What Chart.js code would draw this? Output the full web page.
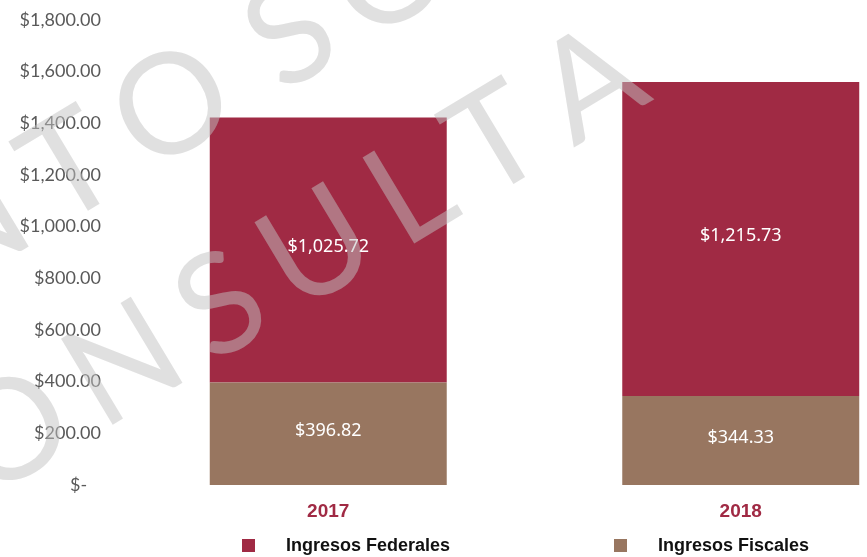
<!DOCTYPE html>
<html>
<head>
<meta charset="utf-8">
<script src="https://cdn.jsdelivr.net/npm/chart.js@4.4.1/dist/chart.umd.min.js"></script>
<style>
  html, body { margin: 0; padding: 0; background: #fff; overflow: hidden; }
  #wrap { width: 947px; height: 557px; }
</style>
</head>
<body>
<div id="wrap"><canvas id="chart" width="947" height="557"></canvas></div>
<script>
const years = ["2017", "2018"];
const ingresosFiscales = [396.82, 344.33];
const ingresosFederales = [1025.72, 1215.73];
const yMin = 0;
const yMax = 1800;
const yStep = 200;

const RED = "#a02a44";
const BROWN = "#987660";

const money = (v) =>
  v === 0
    ? "$-   "
    : "$" + v.toLocaleString("en-US", { minimumFractionDigits: 2, maximumFractionDigits: 2 });

// white value labels in the middle of every stacked segment
const dataLabelPlugin = {
  id: "dataLabels",
  afterDatasetsDraw(chart) {
    const ctx = chart.ctx;
    ctx.save();
    ctx.font = "18px 'Noto Sans', 'Open Sans', sans-serif";
    ctx.fillStyle = "#fff";
    ctx.textAlign = "center";
    ctx.textBaseline = "middle";
    chart.data.datasets.forEach((ds, i) => {
      chart.getDatasetMeta(i).data.forEach((bar, j) => {
        const { x, y, base } = bar.getProps(["x", "y", "base"], true);
        ctx.fillText(money(ds.data[j]), x, (y + base) / 2 - 3);
      });
    });
    ctx.restore();
  },
};

// legend row under the year labels
const legendPlugin = {
  id: "bottomLegend",
  afterDraw(chart) {
    const { ctx, chartArea } = chart;
    const items = [
      { ds: 1, x: chartArea.left + 120 },
      { ds: 0, x: chartArea.left + 492 },
    ];
    const y = chartArea.bottom + 61;
    ctx.save();
    ctx.font = "bold 18px 'Liberation Sans', Arial, sans-serif";
    ctx.textBaseline = "middle";
    items.forEach((it) => {
      const ds = chart.data.datasets[it.ds];
      ctx.fillStyle = ds.backgroundColor;
      ctx.fillRect(it.x, y - 7, 13, 13);
      ctx.fillStyle = "#111";
      ctx.fillText(ds.label, it.x + 44, y);
    });
    ctx.restore();
  },
};

// letters spread out one by one, a space only adds the gap
function drawSpaced(ctx, text, anchor, anchorX, y, gap) {
  const chars = [...text];
  const w = chars.map((ch) => (ch === " " ? 0 : ctx.measureText(ch).width));
  let offset = 0;
  for (let i = 0; i < anchor; i++) offset += w[i] + gap;
  let x = anchorX - offset - w[anchor] / 2;
  chars.forEach((ch, i) => {
    ctx.fillText(ch, x, y);
    x += w[i] + gap;
  });
}

// diagonal grey watermark over the whole picture
const watermarkPlugin = {
  id: "watermark",
  afterDraw(chart) {
    const ctx = chart.ctx;
    ctx.save();
    ctx.rotate((-31 * Math.PI) / 180);
    ctx.font = "140px Lato, sans-serif";
    ctx.fillStyle = "rgba(193,193,193,0.5)";
    ctx.textBaseline = "alphabetic";
    drawSpaced(ctx, "DOCUMENTO SOLO", 8, 93, 226, 22);
    drawSpaced(ctx, "CONSULTA", 3, 32, 422, 22);
    ctx.restore();
  },
};

new Chart(document.getElementById("chart"), {
  type: "bar",
  data: {
    labels: years,
    datasets: [
      { label: "Ingresos Fiscales", data: ingresosFiscales, backgroundColor: BROWN },
      { label: "Ingresos Federales", data: ingresosFederales, backgroundColor: RED },
    ],
  },
  options: {
    responsive: false,
    animation: false,
    devicePixelRatio: 1,
    layout: { padding: { top: 20, left: 0, right: 0, bottom: 0 } },
    datasets: { bar: { barPercentage: 0.5745, categoryPercentage: 1 } },
    plugins: { legend: { display: false }, tooltip: { enabled: false } },
    scales: {
      x: {
        stacked: true,
        grid: { display: false, drawTicks: false },
        border: { display: false },
        ticks: {
          color: RED,
          font: { family: "'Liberation Sans', Arial, sans-serif", size: 19, weight: "bold" },
          padding: 15,
        },
        afterFit: (s) => { s.height = 72; },
      },
      y: {
        stacked: true,
        min: yMin,
        max: yMax,
        grid: { display: false, drawTicks: false },
        border: { display: false },
        ticks: {
          stepSize: yStep,
          color: "#595959",
          font: { family: "Lato", size: 18 },
          padding: 21,
          callback: (v) => money(v),
        },
        afterFit: (s) => {
          s.width = 122;
          s.paddingTop = 0;
          s.paddingBottom = 0;
        },
      },
    },
  },
  plugins: [dataLabelPlugin, legendPlugin, watermarkPlugin],
});
</script>
</body>
</html>
